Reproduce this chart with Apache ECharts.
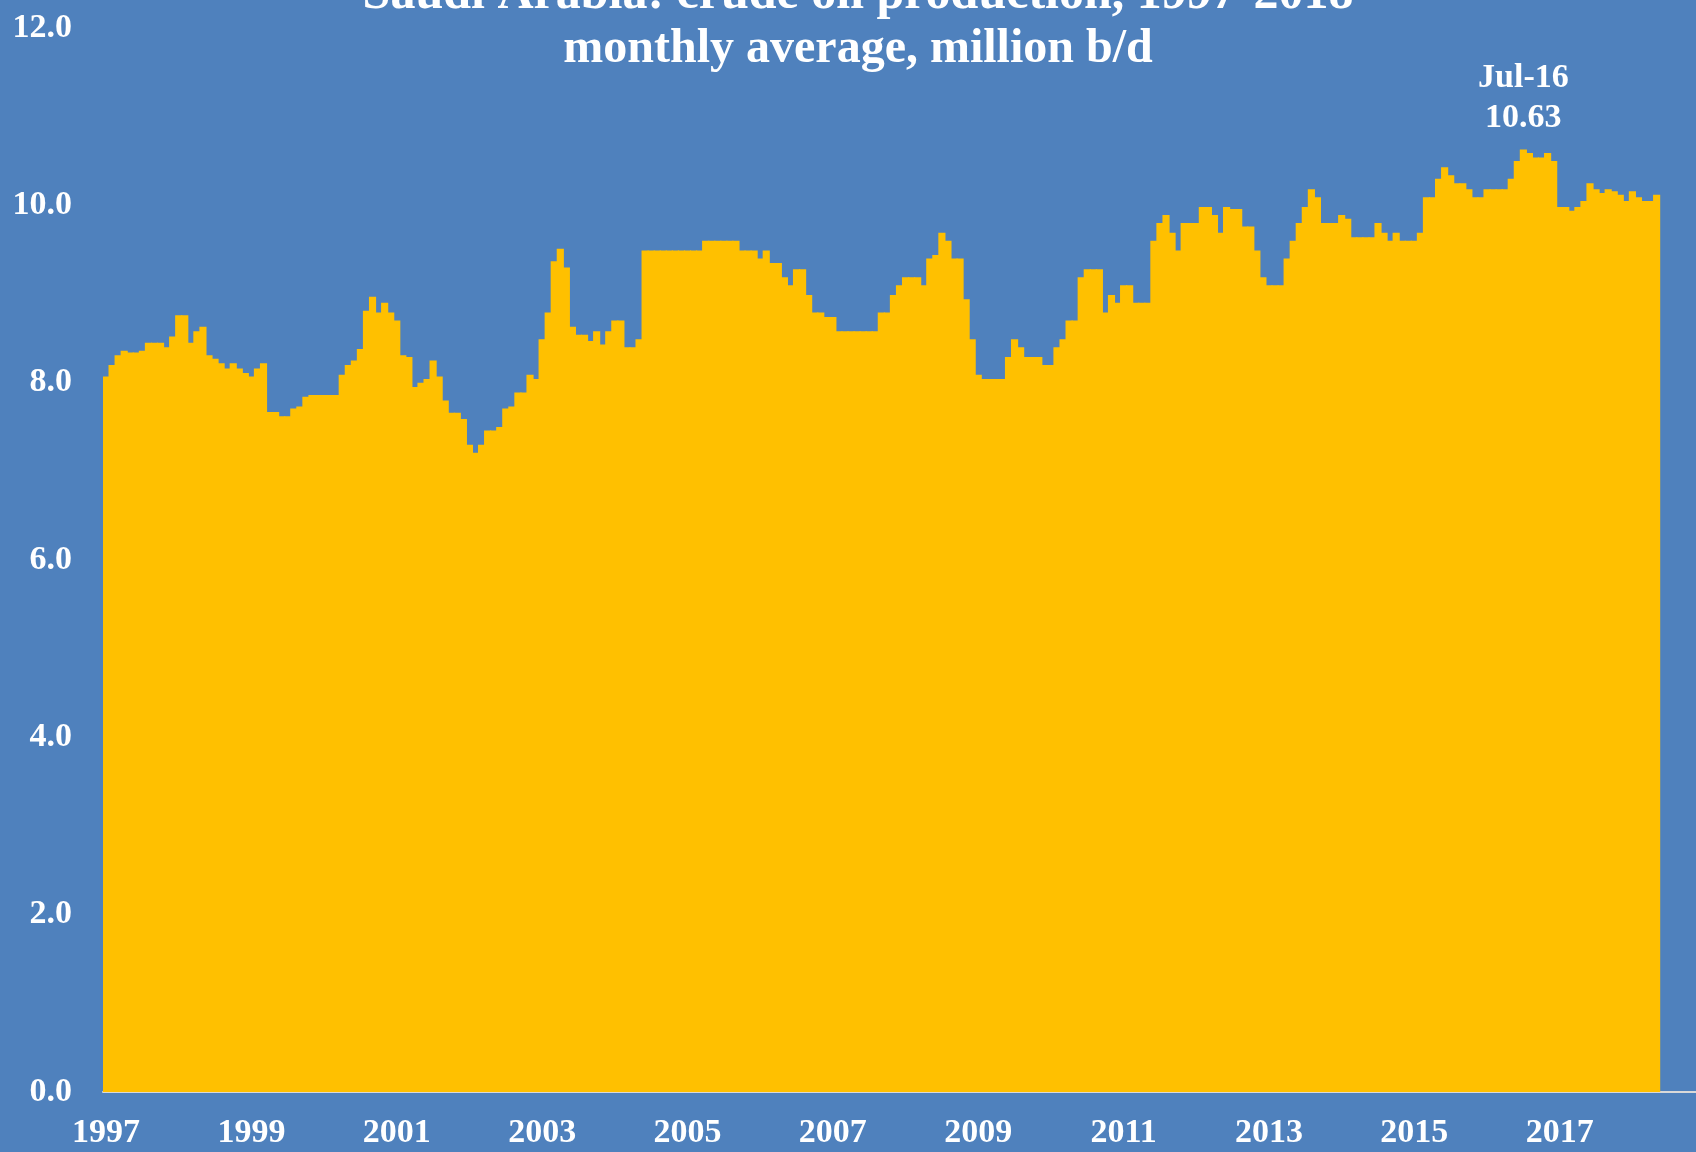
<!DOCTYPE html>
<html>
<head>
<meta charset="utf-8">
<title>Saudi Arabia crude oil production</title>
<script src="https://cdn.jsdelivr.net/npm/echarts@6.0.0/dist/echarts.min.js"></script>
<style>
    html, body { margin: 0; padding: 0; background: #4F81BD; }
    #main { width: 1696px; height: 1152px; }
</style>
</head>
<body>
<div id="main"></div>
<script>
// monthly average, million b/d
var years = [1997, 1998, 1999, 2000, 2001, 2002, 2003, 2004, 2005, 2006, 2007,
             2008, 2009, 2010, 2011, 2012, 2013, 2014, 2015, 2016, 2017, 2018];
var monthNames = ['Jan','Feb','Mar','Apr','May','Jun','Jul','Aug','Sep','Oct','Nov','Dec'];

var prod1997 = [8.07, 8.20, 8.31, 8.36, 8.34, 8.34, 8.36, 8.45, 8.45, 8.45, 8.40, 8.52];
var prod1998 = [8.76, 8.76, 8.45, 8.58, 8.63, 8.31, 8.27, 8.22, 8.16, 8.22, 8.16, 8.11];
var prod1999 = [8.07, 8.16, 8.22, 7.67, 7.67, 7.62, 7.62, 7.71, 7.73, 7.84, 7.86, 7.86];
var prod2000 = [7.86, 7.86, 7.86, 8.09, 8.20, 8.25, 8.38, 8.81, 8.97, 8.79, 8.90, 8.79];
var prod2001 = [8.70, 8.31, 8.29, 7.95, 8.00, 8.04, 8.25, 8.07, 7.80, 7.66, 7.66, 7.59];
var prod2002 = [7.30, 7.21, 7.30, 7.46, 7.46, 7.50, 7.71, 7.73, 7.89, 7.89, 8.09, 8.04];
var prod2003 = [8.49, 8.79, 9.37, 9.51, 9.30, 8.63, 8.54, 8.54, 8.47, 8.58, 8.43, 8.58];
var prod2004 = [8.70, 8.70, 8.40, 8.40, 8.49, 9.49, 9.49, 9.49, 9.49, 9.49, 9.49, 9.49];
var prod2005 = [9.49, 9.49, 9.49, 9.60, 9.60, 9.60, 9.60, 9.60, 9.60, 9.49, 9.49, 9.49];
var prod2006 = [9.40, 9.49, 9.35, 9.35, 9.19, 9.10, 9.28, 9.28, 8.99, 8.79, 8.79, 8.74];
var prod2007 = [8.74, 8.58, 8.58, 8.58, 8.58, 8.58, 8.58, 8.58, 8.79, 8.79, 8.99, 9.10];
var prod2008 = [9.19, 9.19, 9.19, 9.10, 9.40, 9.44, 9.69, 9.60, 9.40, 9.40, 8.94, 8.49];
var prod2009 = [8.09, 8.04, 8.04, 8.04, 8.04, 8.29, 8.49, 8.40, 8.29, 8.29, 8.29, 8.20];
var prod2010 = [8.20, 8.40, 8.49, 8.70, 8.70, 9.19, 9.28, 9.28, 9.28, 8.79, 8.99, 8.90];
var prod2011 = [9.10, 9.10, 8.90, 8.90, 8.90, 9.60, 9.80, 9.89, 9.69, 9.49, 9.80, 9.80];
var prod2012 = [9.80, 9.98, 9.98, 9.89, 9.69, 9.98, 9.96, 9.96, 9.76, 9.76, 9.49, 9.19];
var prod2013 = [9.10, 9.10, 9.10, 9.40, 9.60, 9.80, 9.98, 10.18, 10.09, 9.80, 9.80, 9.80];
var prod2014 = [9.89, 9.85, 9.64, 9.64, 9.64, 9.64, 9.80, 9.69, 9.60, 9.69, 9.60, 9.60];
var prod2015 = [9.60, 9.69, 10.09, 10.09, 10.30, 10.43, 10.34, 10.25, 10.25, 10.18, 10.09, 10.09];
var prod2016 = [10.18, 10.18, 10.18, 10.18, 10.30, 10.50, 10.63, 10.59, 10.54, 10.54, 10.59, 10.50];
var prod2017 = [9.98, 9.98, 9.94, 9.98, 10.05, 10.25, 10.18, 10.14, 10.18, 10.16, 10.12, 10.05];
var prod2018 = [10.16, 10.09, 10.05, 10.05, 10.12];

var yTicks = [0, 2, 4, 6, 8, 10, 12];
var peakMonth = 'Jul-16';

var titleText = 'Saudi Arabia: crude oil production, 1997-2018';
var subTitleText = 'monthly average, million b/d';

var serif = '"Liberation Serif", "DejaVu Serif", serif';

function buildCategories(){
    var cats = [];
    for (var i = 0; i < years.length; i++) {
        for (var m = 0; m < 12; m++) {
            cats.push(monthNames[m] + '-' + String(years[i]).substr(2));
        }
    }
    // axis runs on to Nov 2018, past the last reported month
    return cats.slice(0, 263);
}

function buildSeries(cats){
    var all = [].concat(prod1997, prod1998, prod1999, prod2000, prod2001, prod2002,
        prod2003, prod2004, prod2005, prod2006, prod2007, prod2008, prod2009,
        prod2010, prod2011, prod2012, prod2013, prod2014, prod2015, prod2016,
        prod2017, prod2018);
    var datas = [];
    for (var i = 0; i < all.length; i++) {
        if (cats[i] == peakMonth) {
            datas.push({
                value: all[i],
                label: {
                    show: true,
                    position: 'top',
                    distance: 11,
                    formatter: '{b}\n{c}',
                    color: '#fff',
                    fontFamily: serif,
                    fontWeight: 'bold',
                    fontSize: 34,
                    lineHeight: 40,
                    align: 'center'
                }
            });
        } else {
            datas.push(all[i]);
        }
    }
    return datas;
}

function initChart(){
    var cats = buildCategories();
    var datas = buildSeries(cats);
    var myChart = echarts.init(document.getElementById('main'));
    var option = {
        backgroundColor: '#4F81BD',
        animation: false,
        title: [
            {
                text: titleText,
                left: 853,
                top: -35,
                textAlign: 'center',
                textStyle: {
                    color: '#fff',
                    fontFamily: serif,
                    fontWeight: 'bold',
                    fontSize: 50
                }
            },
            {
                text: subTitleText,
                left: 853,
                top: 21,
                textAlign: 'center',
                textStyle: {
                    color: '#fff',
                    fontFamily: serif,
                    fontWeight: 'bold',
                    fontSize: 48
                }
            }
        ],
        grid: {
            left: 103,
            top: 28,
            width: 1600,
            height: 1064
        },
        xAxis: {
            type: 'category',
            data: cats,
            boundaryGap: true,
            axisTick: { show: false },
            axisLine: { lineStyle: { color: '#D9D9D9', width: 2 } },
            axisLabel: {
                interval: 23,
                margin: 24,
                color: '#fff',
                fontFamily: serif,
                fontWeight: 'bold',
                fontSize: 34,
                formatter: function(v, idx){ return String(years[Math.floor(idx / 12)]); }
            },
            splitLine: { show: false }
        },
        yAxis: {
            type: 'value',
            min: yTicks[0],
            max: yTicks[yTicks.length - 1],
            interval: yTicks[1] - yTicks[0],
            axisLine: { show: false },
            axisTick: { show: false },
            splitLine: { show: false },
            axisLabel: {
                margin: 31,
                color: '#fff',
                fontFamily: serif,
                fontWeight: 'bold',
                fontSize: 34,
                formatter: function(v){ return v.toFixed(1); }
            }
        },
        series: [
            {
                name: 'Saudi Arabia',
                type: 'bar',
                barWidth: '118%', // overlap neighbours so no seams show
                itemStyle: {
                    color: '#FFC000'
                },
                data: datas
            }
        ]
    };
    myChart.setOption(option);
}

initChart();
</script>
</body>
</html>
